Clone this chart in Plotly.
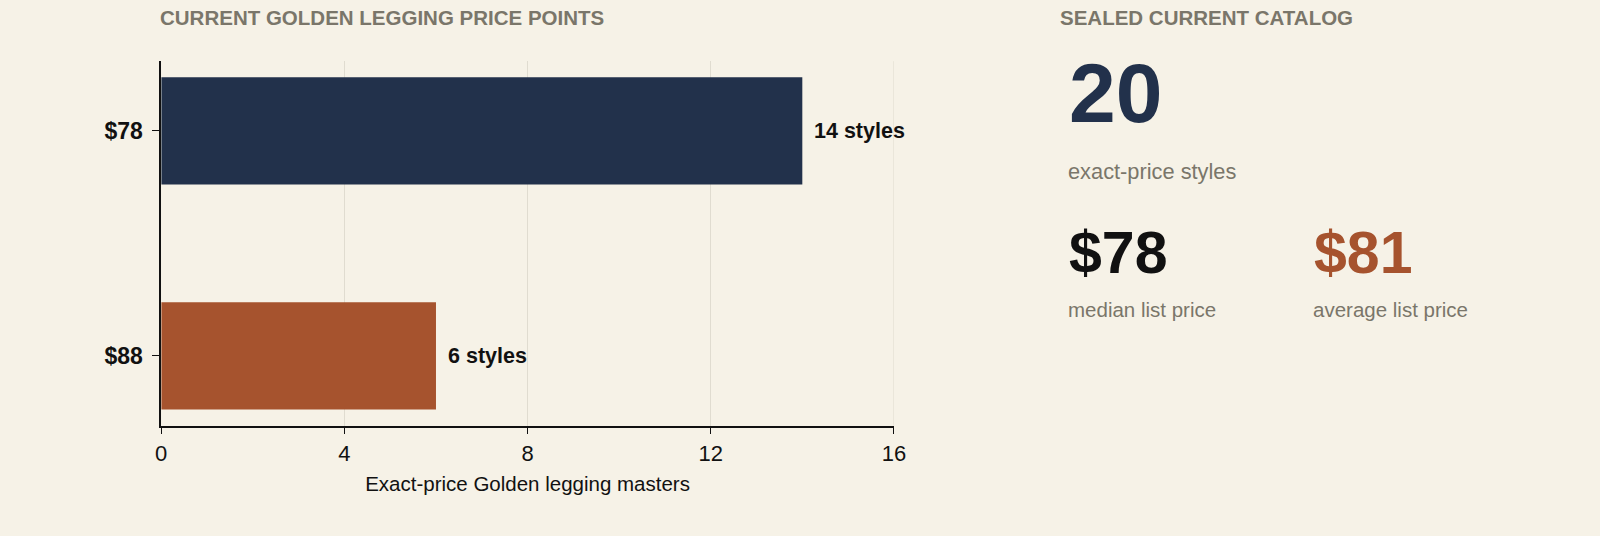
import plotly.graph_objects as go

# chart data
price_points = ["$78", "$88"]
style_counts = [14, 6]
bar_colors = ["#22314b", "#a6532e"]
x_ticks = [0, 4, 8, 12, 16]

# catalog summary
total_styles = "20"
median_price = "$78"
average_price = "$81"

W, H = 1600, 536
BG = "#f6f2e7"
GREY = "#7a766a"
FONT = "Liberation Sans, Arial, sans-serif"

def px_x(p):
    return p / W

def px_y(p):
    return 1 - p / H

fig = go.Figure()
fig.add_trace(go.Bar(
    y=price_points,
    x=style_counts,
    orientation="h",
    marker=dict(color=bar_colors, line=dict(width=0)),
    width=0.477,
    hoverinfo="skip",
))

# value labels just past the bar ends
for p, c in zip(price_points, style_counts):
    fig.add_annotation(
        x=c, y=p, xref="x", yref="y",
        text=f"<b>{c} styles</b>", showarrow=False,
        xanchor="left", yanchor="middle", xshift=10,
        font=dict(size=21.5, color="#111111", family=FONT),
    )

# gridline at the last tick (plotly skips it at the range edge)
fig.add_shape(
    type="line", xref="x", yref="y domain",
    x0=x_ticks[-1], x1=x_ticks[-1], y0=0, y1=1,
    line=dict(color="#e0dcd0", width=1), layer="below",
)

fig.update_layout(
    width=W, height=H,
    paper_bgcolor=BG, plot_bgcolor=BG,
    margin=dict(l=0, r=0, t=0, b=0),
    showlegend=False,
    font=dict(family=FONT, color="#111111"),
    xaxis=dict(
        domain=[px_x(157), px_x(898)],
        range=[0, 16],
        tickvals=x_ticks,
        ticks="outside", ticklen=7, tickcolor="#111111",
        tickfont=dict(size=22),
        showgrid=True, gridcolor="#e0dcd0", gridwidth=1,
        showline=True, linecolor="#111111", linewidth=1.5,
        zeroline=False,
        title=dict(text="Exact-price Golden legging masters", font=dict(size=20.5), standoff=12),
    ),
    yaxis=dict(
        domain=[px_y(425.7), px_y(61.2)],
        range=[1.31, -0.31],
        type="category",
        ticks="outside", ticklen=7, tickcolor="#111111",
        tickfont=dict(size=23),
        ticklabelstandoff=5,
        tickvals=price_points,
        ticktext=[f"<b>{p}</b>" for p in price_points],
        showgrid=False,
        showline=True, linecolor="#111111", linewidth=1.5,
        zeroline=False,
    ),
)

def note(x, y, text, size, color, bold=False):
    fig.add_annotation(
        x=px_x(x), y=px_y(y), xref="paper", yref="paper",
        xanchor="left", yanchor="middle", showarrow=False,
        text=f"<b>{text}</b>" if bold else text,
        font=dict(size=size, color=color, family=FONT),
    )

note(154, 17.3, "CURRENT GOLDEN LEGGING PRICE POINTS", 20.5, GREY, bold=True)
note(1064.4, 17.3, "SEALED CURRENT CATALOG", 20.5, GREY, bold=True)
note(1073, 93, total_styles, 84, "#22314b", bold=True)
note(1072.5, 171, "exact-price styles", 21.8, GREY)
note(1073, 253, median_price, 59, "#111111", bold=True)
note(1321, 253, average_price, 59, "#a6532e", bold=True)
note(1072.5, 309, "median list price", 20.5, GREY)
note(1320, 309, "average list price", 20.5, GREY)

fig.write_html(
    "out.html",
    config={"displayModeBar": False},
    post_script="document.body.style.margin='0';document.body.style.overflow='hidden';",
)
